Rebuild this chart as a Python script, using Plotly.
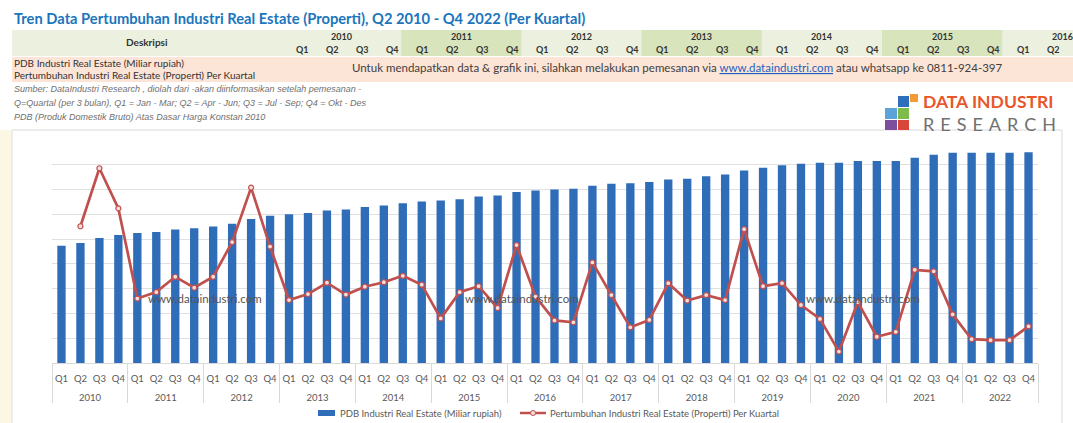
import plotly.graph_objects as go

# ---------------- data ----------------
years = [str(y) for y in range(2010, 2023)]
quarters = ["Q1", "Q2", "Q3", "Q4"]

pdb = [
    56800, 58100, 60500, 62000,   # 2010
    62900, 63400, 64600, 65300,   # 2011
    66100, 67400, 69800, 71300,   # 2012
    72000, 72600, 73900, 74400,   # 2013
    75500, 76300, 77400, 78200,   # 2014
    78700, 79300, 80600, 81100,   # 2015
    82800, 83500, 84000, 84400,   # 2016
    85800, 86800, 87100, 87600,   # 2017
    88900, 89200, 90400, 91300,   # 2018
    93200, 94600, 95800, 96500,   # 2019
    97000, 97000, 97800, 97800,   # 2020
    97800, 99400, 100800, 101800, # 2021
    101800, 101800, 101800, 102100  # 2022
]

growth = [
    None, 2.26, 3.43, 2.62,   # 2010
    0.80, 0.93, 1.24, 1.02,   # 2011
    1.24, 1.94, 3.04, 1.85,   # 2012
    0.77, 0.89, 1.12, 0.88,   # 2013
    1.04, 1.13, 1.26, 1.08,   # 2014
    0.40, 0.93, 1.05, 0.61,   # 2015
    1.88, 0.84, 0.36, 0.32,   # 2016
    1.53, 0.87, 0.22, 0.37,   # 2017
    1.11, 0.76, 0.87, 0.77,   # 2018
    2.20, 1.05, 1.11, 0.67,   # 2019
    0.39, -0.27, 0.73, 0.03,  # 2020
    0.13, 1.38, 1.35, 0.48,   # 2021
    -0.02, -0.04, -0.04, 0.24 # 2022
]

header_years = ["2010", "2011", "2012", "2013", "2014", "2015", "2016"]
header_quarters = (quarters * 7)[:26]

title_text = "Tren Data Pertumbuhan Industri Real Estate (Properti), Q2 2010 - Q4 2022 (Per Kuartal)"
name_bar = "PDB Industri Real Estate (Miliar rupiah)"
name_line = "Pertumbuhan Industri Real Estate (Properti) Per Kuartal"
order_msg = ("Untuk mendapatkan data & grafik ini, silahkan melakukan pemesanan via "
             "<span style='color:#1F5FBF;text-decoration:underline'>www.dataindustri.com</span>"
             " atau whatsapp ke 0811-924-397")
notes = [
    "Sumber: DataIndustri Research , diolah dari -akan diinformasikan setelah pemesanan -",
    "Q=Quartal (per 3 bulan), Q1 = Jan - Mar; Q2 = Apr - Jun; Q3 = Jul - Sep; Q4 = Okt - Des",
    "PDB (Produk Domestik Bruto) Atas Dasar Harga Konstan 2010",
]
watermark = "www.dataindustri.com"

BAR_COLOR = "#2F6DB9"
LINE_COLOR = "#C0504D"
MARKER_FILL = "#F4DEDD"

# ---------------- geometry helpers ----------------
W, H = 1073, 423
L, R, T, B = 52, 35, 140, 60
PW, PH = W - L - R, H - T - B


def fx(px):
    return (px - L) / PW


def fy(py):
    return (H - B - py) / PH


FONT = "Lato"

# outer (year) labels get an empty first line so they sit lower, as in the reference
xcat = [["<br>" + y for y in years for q in quarters], [q for y in years for q in quarters]]

fig = go.Figure()
fig.add_trace(go.Bar(
    x=xcat, y=pdb, name=name_bar,
    marker=dict(color=BAR_COLOR, line=dict(width=0)),
))
fig.add_trace(go.Scatter(
    x=xcat, y=growth, name=name_line, yaxis="y2",
    mode="lines+markers",
    line=dict(color=LINE_COLOR, width=2.7),
    marker=dict(symbol="circle", size=5, color=MARKER_FILL,
                line=dict(color=LINE_COLOR, width=1.2)),
))

shapes = []
annotations = []

# chart border
shapes.append(dict(type="rect", xref="paper", yref="paper",
                   x0=fx(12), x1=fx(1062), y0=fy(130), y1=fy(440),
                   line=dict(color="#D9D9D9", width=1), fillcolor="rgba(0,0,0,0)", layer="below"))
# faint left strip
shapes.append(dict(type="rect", xref="paper", yref="paper",
                   x0=fx(0), x1=fx(11), y0=fy(130), y1=fy(423),
                   line=dict(width=0), fillcolor="#FBF7E3", layer="below"))

# header band
shapes.append(dict(type="rect", xref="paper", yref="paper",
                   x0=fx(12), x1=fx(1073), y0=fy(56), y1=fy(30),
                   line=dict(width=0), fillcolor="#EBF1DE", layer="below"))
for k, yr in enumerate(header_years):
    if k % 2 == 1:
        x0 = 281 + 120.2 * k
        shapes.append(dict(type="rect", xref="paper", yref="paper",
                           x0=fx(x0), x1=fx(x0 + 120.2), y0=fy(56), y1=fy(30),
                           line=dict(width=0), fillcolor="#D8E4BC", layer="below"))
# peach band
shapes.append(dict(type="rect", xref="paper", yref="paper",
                   x0=fx(12), x1=fx(1073), y0=fy(82), y1=fy(57),
                   line=dict(width=0), fillcolor="#FCE4D6", layer="below"))

# logo squares
logo = [
    (898, 96, 909, 107, "#2F6EBA"),
    (910, 94, 918, 102, "#F39A34"),
    (885, 108, 897, 119, "#5BA3D9"),
    (898, 108, 909, 119, "#7DBB4B"),
    (885, 120, 897, 130, "#7E4E9E"),
    (898, 120, 909, 130, "#D9453A"),
]
for x0, y0, x1, y1, c in logo:
    shapes.append(dict(type="rect", xref="paper", yref="paper",
                       x0=fx(x0), x1=fx(x1), y0=fy(y1), y1=fy(y0),
                       line=dict(width=0), fillcolor=c, layer="above"))

# manual legend symbols
shapes.append(dict(type="rect", xref="paper", yref="paper",
                   x0=fx(318), x1=fx(335), y0=fy(416), y1=fy(410),
                   line=dict(width=0), fillcolor=BAR_COLOR, layer="above"))
shapes.append(dict(type="line", xref="paper", yref="paper",
                   x0=fx(520), x1=fx(546), y0=fy(413), y1=fy(413),
                   line=dict(color=LINE_COLOR, width=2.5), layer="above"))
shapes.append(dict(type="circle", xref="paper", yref="paper",
                   x0=fx(530.5), x1=fx(535.5), y0=fy(415.5), y1=fy(410.5),
                   line=dict(color=LINE_COLOR, width=1), fillcolor=MARKER_FILL, layer="above"))


def ann(text, px, py, size, color="#333333", xanchor="left", bold=False, italic=False, family=FONT):
    t = text
    if bold:
        t = "<b>" + t + "</b>"
    if italic:
        t = "<i>" + t + "</i>"
    annotations.append(dict(text=t, xref="paper", yref="paper", x=fx(px), y=fy(py),
                            xanchor=xanchor, yanchor="middle", showarrow=False,
                            font=dict(size=size, color=color, family=family)))


ann(title_text, 12, 18, 14.7, color="#1B75BC", bold=True)
ann("Deskripsi", 147, 42, 10, color="#333333", xanchor="center", bold=True)
for k, yr in enumerate(header_years):
    ann(yr, 341 + 120.2 * k, 36, 9, color="#333333", xanchor="center", bold=True)
for i, q in enumerate(header_quarters):
    ann(q, 302 + 30.05 * i, 49.5, 9, color="#333333", xanchor="center", bold=True)
ann(name_bar, 12, 62.5, 10, color="#333333")
ann(name_line, 12, 75.5, 10, color="#333333")
ann(order_msg, 677, 68, 11.5, color="#404040", xanchor="center")
for j, n in enumerate(notes):
    ann(n, 12, 88.5 + 14 * j, 9, color="#6F6F6F", italic=True, family="Liberation Sans")
ann("DATA INDUSTRI", 921, 101.5, 17.5, color="#E8562A", bold=True)
ann("\u2004".join("RESEARCH"), 921, 124.5, 18, color="#707070", family="Lato")
for wx in (205, 522, 863):
    ann(watermark, wx, 298, 11.5, color="#555555", xanchor="center")
# manual legend labels
ann(name_bar, 338, 413, 9.5, color="#595959")
ann(name_line, 548, 413, 9.5, color="#595959")

fig.update_layout(
    width=W, height=H,
    margin=dict(l=L, r=R, t=T, b=B, pad=0),
    paper_bgcolor="white", plot_bgcolor="white",
    font=dict(family=FONT, color="#595959"),
    bargap=0.56,
    showlegend=False,
    xaxis=dict(type="multicategory", range=[-0.5, 51.5], autorange=False,
               showgrid=False, showline=True, linecolor="#D9D9D9",
               ticks="", ticklabelstandoff=7,
               tickangle=0, tickfont=dict(size=9.5, color="#595959"),
               showdividers=True, dividercolor="#D9D9D9", dividerwidth=1),
    yaxis=dict(range=[0, 108000], dtick=12000, showticklabels=False,
               gridcolor="#E0E0E0", gridwidth=1, zeroline=False, showline=False),
    yaxis2=dict(range=[-0.5, 4.0], overlaying="y", side="right", showticklabels=False,
                showgrid=False, zeroline=False, showline=False),
    shapes=shapes,
    annotations=annotations,
)

fig.write_html("out.html", config={"displayModeBar": False},
               post_script="document.body.style.margin='0';document.body.style.overflow='hidden';")
